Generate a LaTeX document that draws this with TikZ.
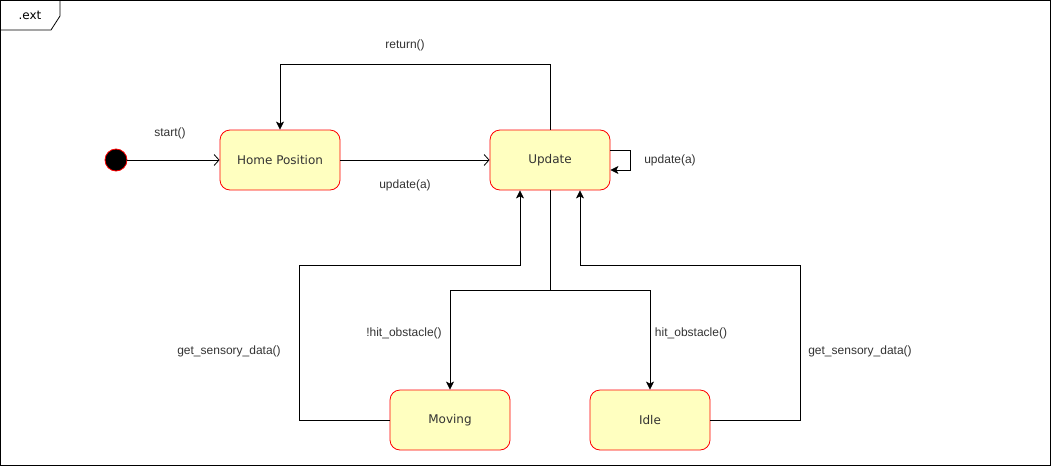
\documentclass[tikz,border=0pt]{standalone}
\usepackage{fontspec}
\setmainfont{Liberation Sans}
\newfontfamily\statefont{DejaVu Sans}
\usetikzlibrary{arrows.meta}
\definecolor{statefill}{HTML}{FFFFC0}
\definecolor{txt}{HTML}{333333}
\tikzset{
  state/.style={draw=red, fill=statefill, rounded corners=10pt, line width=0.8pt,
    minimum width=120pt, minimum height=60pt, inner sep=0pt,
    font=\statefont\fontsize{12}{14}\selectfont, text=txt},
  lbl/.style={font=\fontsize{12}{14}\selectfont, text=txt, inner sep=1pt},
  fa/.style={draw=black, line width=0.8pt, -{Stealth[length=8pt,width=8pt,inset=2pt]}},
  oa/.style={draw=black, line width=0.8pt, -{Straight Barb[length=5pt,width=11pt]}},
}
\begin{document}
\begin{tikzpicture}[x=1pt,y=-1pt]
\useasboundingbox (0,0) rectangle (1051,466);
% outer frame with its name tab
\draw[line width=0.8pt] (0.5,0.5) rectangle (1050.5,465.5);
\draw[line width=0.8pt] (0.5,30) -- (51,30) -- (60,16) -- (60,0.5);
\node[lbl, font=\statefont\fontsize{12}{14}\selectfont, text=black] (frame) at (30,15) {.ext};

% states
\node[circle, draw=red, fill=black, minimum size=22pt, inner sep=0pt, line width=0.8pt] (init) at (116,160) {};
\node[state] (home) at (280,160) {Home Position};
\node[state] (upd) at (550,160) {Update};
\node[state] (mov) at (450,420) {Moving};
\node[state] (idle) at (650,420) {Idle};

% transitions
\draw[oa] (init) -- (home);
\draw[oa] (home) -- (upd);
\draw[fa] ([yshift=10pt]upd.east) -- ++(20,0) |- ([yshift=-10pt]upd.east);
\draw[fa] (upd.north) -- ++(0,-65) -| (home.north);
\draw[fa] (upd.south) -- ++(0,100) -| (mov.north);
\draw[fa] (upd.south) -- ++(0,100) -| (idle.north);
\draw[fa] (mov.west) -- ++(-90,0) -- ++(0,-155) -| ([xshift=-30pt]upd.south);
\draw[fa] (idle.east) -- ++(90,0) -- ++(0,-155) -| ([xshift=30pt]upd.south);

% transition labels
\node[lbl] (lstart) at (170,133) {start()};
\node[lbl] (lupd) at (405,185) {update(a)};
\node[lbl] (lself) at (670,160) {update(a)};
\node[lbl] (lret) at (405,45) {return()};
\node[lbl] (lnhit) at (404,333) {!hit\_obstacle()};
\node[lbl] (lhit) at (691,333) {hit\_obstacle()};
\node[lbl] (lgl) at (229,351) {get\_sensory\_data()};
\node[lbl] (lgr) at (860,351) {get\_sensory\_data()};
\end{tikzpicture}
\end{document}
